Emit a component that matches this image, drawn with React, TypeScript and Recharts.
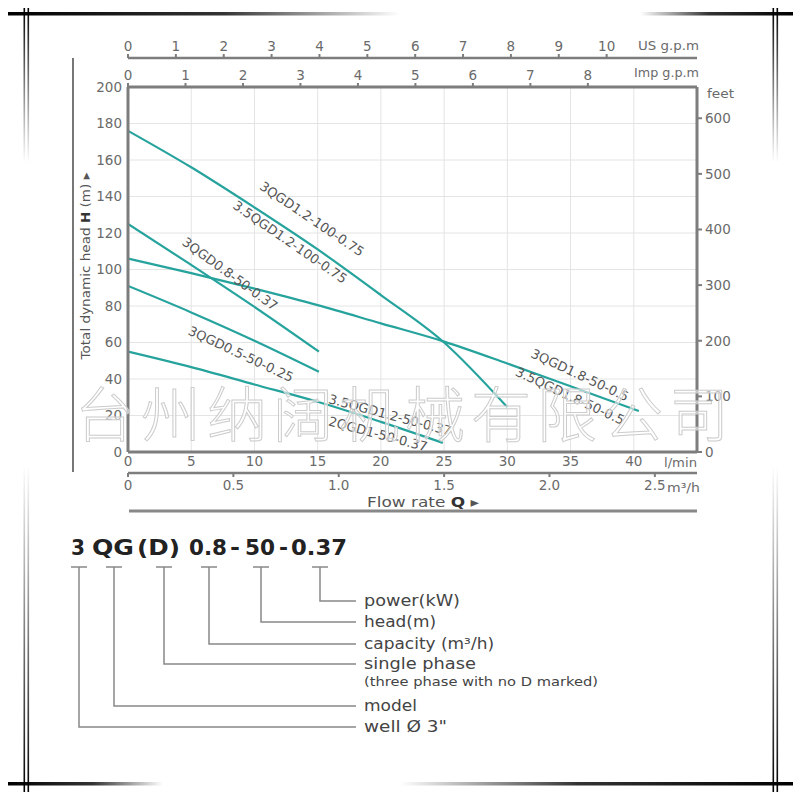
import React from 'react'
import { LineChart, Line, XAxis, YAxis, CartesianGrid } from 'recharts'

// flow in l/min, head in m
const qA = [0, 5, 10, 15, 20, 25, 30]
const hA = [176, 156, 134, 111, 86, 60, 24.5]
const qB = [0, 5, 10, 15, 20, 25, 30, 35, 40.4]
const hB = [106, 98, 89.5, 80.5, 70.5, 60.5, 48.5, 36, 22.5]
const qC = [0, 5, 10, 15.1]
const hC = [125, 102.5, 79.5, 55]
const qD = [0, 5, 10, 15.1]
const hD = [91, 76.5, 61, 44]
const qE = [0, 5, 10, 15, 20, 24.9]
const hE = [55, 46.5, 37, 27.5, 16.5, 5]

const lminTicks = [0, 5, 10, 15, 20, 25, 30, 35, 40]
const headTicks = [0, 20, 40, 60, 80, 100, 120, 140, 160, 180, 200]
const feetTicks = [0, 100, 200, 300, 400, 500, 600]
const usTicks = [0, 1, 2, 3, 4, 5, 6, 7, 8, 9, 10]
const impTicks = [0, 1, 2, 3, 4, 5, 6, 7, 8]
const m3Ticks = [0, 0.5, 1, 1.5, 2, 2.5]

const US_GPM = 3.78541
const IMP_GPM = 4.54609
const M3H = 1000 / 60
const FT = 0.3048

const curveLabels = [
  { text: '3QGD1.2-100-0.75', x: 312, y: 219, a: 34 },
  { text: '3.5QGD1.2-100-0.75', x: 290, y: 242, a: 34.5 },
  { text: '3QGD0.8-50-0.37', x: 230, y: 274, a: 36 },
  { text: '3QGD0.5-50-0.25', x: 241, y: 354, a: 25 },
  { text: '3.5QGD1.2-50-0.37', x: 390, y: 415, a: 15 },
  { text: '2QGD1-50-0.37', x: 378, y: 434, a: 15 },
  { text: '3QGD1.8-50-0.5', x: 580, y: 375, a: 25 },
  { text: '3.5QGD1.8-50-0.5', x: 570, y: 396, a: 25 },
]

// model code pieces: text, left x, width
const codeParts = [
  { t: '3', x: 71, w: 14 },
  { t: 'QG', x: 92, w: 42 },
  { t: '(D)', x: 137, w: 43 },
  { t: '0.8', x: 189, w: 38 },
  { t: '-', x: 230, w: 10 },
  { t: '50', x: 245, w: 30 },
  { t: '-', x: 279, w: 9 },
  { t: '0.37', x: 291, w: 56 },
]

const legendRows = [
  { text: 'power(kW)', y: 601, x0: 320, w: 96 },
  { text: 'head(m)', y: 622, x0: 261, w: 72 },
  { text: 'capacity (m³/h)', y: 644, x0: 209, w: 130 },
  { text: 'single phase', y: 664, x0: 164, w: 112 },
  { text: 'model', y: 706, x0: 114, w: 53 },
  { text: 'well Ø 3"', y: 727, x0: 79, w: 83 },
]

const zip = (q: number[], h: number[]) => q.map((v, i) => ({ q: v, h: h[i] }))

const teal = '#26a39d'
const axisColor = '#7d7d7d'
const tickStyle = { fill: '#6a6a6a', fontSize: 13.5 }

export default function App() {
  const series = [zip(qA, hA), zip(qB, hB), zip(qC, hC), zip(qD, hD), zip(qE, hE)]

  return (
    <div style={{ position: 'absolute', left: 0, top: 0, width: 800, height: 800, background: '#fff', fontFamily: '"DejaVu Sans", sans-serif' }}>
      <LineChart width={800} height={520} margin={{ top: 33, right: 53, left: 73, bottom: 17 }}>
        <CartesianGrid stroke="#e4e4e4" strokeWidth={1} />
        <XAxis xAxisId={0} dataKey="q" type="number" domain={[0, 45]} ticks={lminTicks} allowDataOverflow
          orientation="bottom" height={21} tickSize={3} tickMargin={1} tick={tickStyle}
          axisLine={{ stroke: axisColor, strokeWidth: 3 }} tickLine={false} />
        <XAxis xAxisId="m3" dataKey="q" type="number" domain={[0, 45]} ticks={m3Ticks.map(v => v * M3H)} allowDataOverflow
          orientation="bottom" height={30} tickSize={4} tickMargin={3} tick={tickStyle}
          tickFormatter={(v: number) => (v < 1e-6 ? '0' : (v / M3H).toFixed(1))}
          axisLine={{ stroke: axisColor, strokeWidth: 2.5 }} tickLine={{ stroke: axisColor, strokeWidth: 2 }} />
        <XAxis xAxisId="imp" dataKey="q" type="number" domain={[0, 45]} ticks={impTicks.map(v => v * IMP_GPM)} allowDataOverflow
          orientation="top" height={29} tickSize={4} tickMargin={3} tick={tickStyle}
          tickFormatter={(v: number) => String(Math.round(v / IMP_GPM))}
          axisLine={{ stroke: axisColor, strokeWidth: 3 }} tickLine={{ stroke: axisColor, strokeWidth: 2 }} />
        <XAxis xAxisId="us" dataKey="q" type="number" domain={[0, 45]} ticks={usTicks.map(v => v * US_GPM)} allowDataOverflow
          orientation="top" height={25} tickSize={4} tickMargin={3} tick={tickStyle}
          tickFormatter={(v: number) => String(Math.round(v / US_GPM))}
          axisLine={{ stroke: axisColor, strokeWidth: 2.5 }} tickLine={{ stroke: axisColor, strokeWidth: 2 }} />
        <YAxis yAxisId={0} type="number" domain={[0, 200]} ticks={headTicks} width={55}
          tickSize={3} tickMargin={3} tick={tickStyle}
          axisLine={{ stroke: axisColor, strokeWidth: 3 }} tickLine={false} />
        <YAxis yAxisId="ft" orientation="right" type="number" domain={[0, 200 / FT]} ticks={feetTicks} width={50}
          allowDataOverflow tickSize={5} tickMargin={3} tick={tickStyle}
          axisLine={{ stroke: axisColor, strokeWidth: 3 }} tickLine={{ stroke: axisColor, strokeWidth: 2 }} />
        {/* invisible copies so the unit axes get a domain */}
        {['m3', 'imp', 'us'].map(id => (
          <Line key={id} xAxisId={id} data={series[1]} dataKey="h" stroke="none" dot={false}
            activeDot={false} isAnimationActive={false} />
        ))}
        {series.map((d, i) => (
          <Line key={i} data={d} dataKey="h" type="monotone" stroke={teal} strokeWidth={2.2}
            dot={false} isAnimationActive={false} />
        ))}
      </LineChart>

      <svg width={800} height={800} style={{ position: 'absolute', left: 0, top: 0, pointerEvents: 'none' }}>
        <defs>
          <linearGradient id="fadeR" x1="0" x2="1" y1="0" y2="0">
            <stop offset="0" stopColor="#000" stopOpacity={1} />
            <stop offset="0.55" stopColor="#000" stopOpacity={0.8} />
            <stop offset="1" stopColor="#000" stopOpacity={0} />
          </linearGradient>
          <linearGradient id="fadeL" x1="1" x2="0" y1="0" y2="0">
            <stop offset="0" stopColor="#000" stopOpacity={1} />
            <stop offset="0.55" stopColor="#000" stopOpacity={0.8} />
            <stop offset="1" stopColor="#000" stopOpacity={0} />
          </linearGradient>
          <linearGradient id="fadeD" x1="0" x2="0" y1="0" y2="1">
            <stop offset="0" stopColor="#000" stopOpacity={1} />
            <stop offset="1" stopColor="#000" stopOpacity={0} />
          </linearGradient>
          <linearGradient id="fadeU" x1="0" x2="0" y1="1" y2="0">
            <stop offset="0" stopColor="#000" stopOpacity={1} />
            <stop offset="1" stopColor="#000" stopOpacity={0} />
          </linearGradient>
        </defs>

        {/* frame */}
        <rect x={8} y={12} width={392} height={3.5} fill="url(#fadeR)" />
        <rect x={640} y={12} width={153} height={3.5} fill="url(#fadeL)" />
        <rect x={8} y={782} width={155} height={3.5} fill="url(#fadeR)" />
        <rect x={400} y={782} width={393} height={3.5} fill="url(#fadeL)" />
        {[23.5, 27.5, 772.5, 776.5].map(x => (
          <g key={x}>
            <rect x={x} y={8} width={1.6} height={155} fill="url(#fadeD)" />
            <rect x={x} y={465} width={1.6} height={327} fill="url(#fadeU)" />
          </g>
        ))}

        {/* side line and bottom line */}
        <line x1={73} y1={58} x2={73} y2={472} stroke="#777" strokeWidth={2} />
        <line x1={129} y1={511} x2={697} y2={511} stroke="#888" strokeWidth={3} />

        {/* unit labels */}
        <g fill="#6a6a6a" fontSize={12.5}>
          <text x={638} y={50} textLength={61} lengthAdjust="spacingAndGlyphs">US g.p.m</text>
          <text x={634} y={77} textLength={65} lengthAdjust="spacingAndGlyphs">Imp g.p.m</text>
          <text x={707} y={98} textLength={27} lengthAdjust="spacingAndGlyphs">feet</text>
          <text x={664} y={467} textLength={33} lengthAdjust="spacingAndGlyphs">l/min</text>
          <text x={667} y={492} textLength={33} lengthAdjust="spacingAndGlyphs">m³/h</text>
        </g>
        <text x={367} y={507} textLength={112} lengthAdjust="spacingAndGlyphs" fill="#555" fontSize={14}>
          Flow rate <tspan fontWeight="bold" fill="#333">Q</tspan> ▸
        </text>
        <text x={0} y={0} transform="translate(90,266) rotate(-90)" textAnchor="middle" fill="#555" fontSize={13}
          textLength={187} lengthAdjust="spacingAndGlyphs">
          Total dynamic head <tspan fontWeight="bold" fill="#333">H</tspan> (m) ▸
        </text>

        {/* curve labels */}
        {curveLabels.map(l => (
          <text key={l.text} x={l.x} y={l.y} transform={`rotate(${l.a},${l.x},${l.y})`} textAnchor="middle"
            dominantBaseline="central" fill="#555" fontSize={13}>{l.text}</text>
        ))}

        {/* watermark */}
        <text x={405} y={410} textAnchor="middle" dominantBaseline="central" fontSize={60} letterSpacing={6}
          fontFamily='"Noto Sans CJK SC"' fontWeight={300} fill="#ffffff" fillOpacity={0.55} stroke="#cccccc" strokeWidth={1}>
          台州纳阔机械有限公司
        </text>

        {/* model code */}
        <g fontSize={21} fontWeight="bold" fill="#222">
          {codeParts.map((p, i) => (
            <text key={i} x={p.x} y={555} textLength={p.w} lengthAdjust="spacingAndGlyphs">{p.t}</text>
          ))}
        </g>
        <g stroke="#888" strokeWidth={1.5} fill="none">
          {legendRows.map(r => (
            <g key={r.text}>
              <line x1={r.x0 - 8} y1={567} x2={r.x0 + 8} y2={567} />
              <polyline points={`${r.x0},567 ${r.x0},${r.y} 356,${r.y}`} />
            </g>
          ))}
        </g>
        <g fill="#444" fontSize={15} dominantBaseline="central">
          {legendRows.map(r => (
            <text key={r.text} x={364} y={r.y} textLength={r.w} lengthAdjust="spacingAndGlyphs">{r.text}</text>
          ))}
          <text x={364} y={682} fontSize={11.5} textLength={234} lengthAdjust="spacingAndGlyphs">(three phase with no D marked)</text>
        </g>
      </svg>
    </div>
  )
}
